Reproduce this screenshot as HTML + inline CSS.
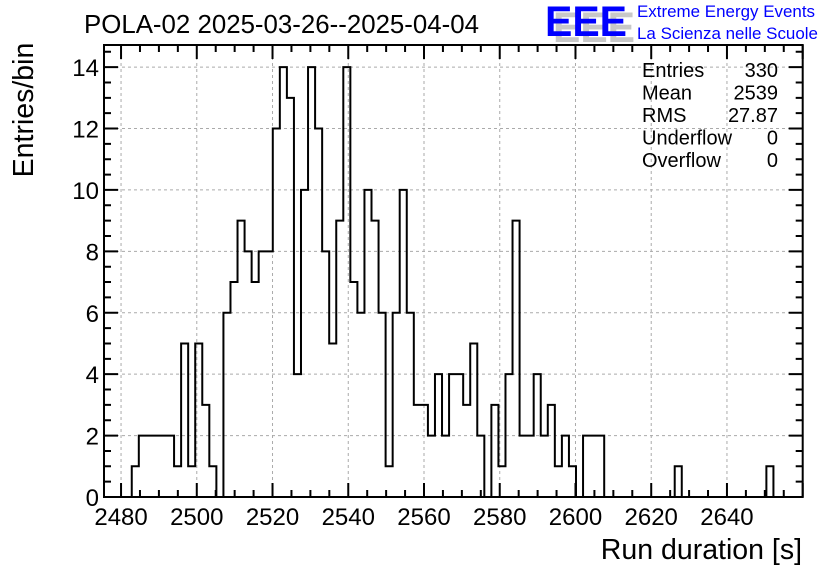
<!DOCTYPE html>
<html><head><meta charset="utf-8"><style>
html,body{margin:0;padding:0;background:#fff;}
svg{display:block;font-family:"Liberation Sans",sans-serif;}
</style></head><body>
<svg id="chart" width="836" height="572">
<g id="grid"></g>
<path id="hist" fill="none" stroke="#000" stroke-width="2"/>
<g id="axes"></g>
<text x="84" y="33" font-size="26" textLength="395" lengthAdjust="spacingAndGlyphs">POLA-02 2025-03-26--2025-04-04</text>
<text transform="translate(33,110) rotate(-90)" text-anchor="middle" font-size="28.5">Entries/bin</text>
<text x="802" y="559" text-anchor="end" font-size="28.5">Run duration [s]</text>
<g>
<text x="553" y="42" font-size="43" font-weight="bold" fill="#c8c8c8" textLength="82" lengthAdjust="spacingAndGlyphs">EEE</text>
<text x="545" y="36" font-size="43" font-weight="bold" fill="#0000ff" textLength="82" lengthAdjust="spacingAndGlyphs">EEE</text>
<text x="637" y="17" font-size="16.5" fill="#0000ff" textLength="178" lengthAdjust="spacingAndGlyphs">Extreme Energy Events</text>
<text x="637" y="39" font-size="16.5" fill="#0000ff" textLength="181" lengthAdjust="spacingAndGlyphs">La Scienza nelle Scuole</text>
</g>
<g id="stats" font-size="20"></g>
</svg>
<script>
const binStart = 2482.83;
const binWidth = 1.862;
const counts = [1,2,2,2,2,2,1,5,1,5,3,1,0,6,7,9,8,7,8,8,12,14,13,4,10,14,12,8,5,9,14,7,6,10,9,6,1,6,10,6,3,3,2,4,2,4,4,3,5,2,0,3,1,4,9,2,2,4,2,3,1,2,1,0,2,2,2,0,0,0,0,0,0,0,0,0,0,1,0,0,0,0,0,0,0,0,0,0,0,0,1];
const xTicks = [2480,2500,2520,2540,2560,2580,2600,2620,2640];
const yTicks = [0,2,4,6,8,10,12,14];
const statLabels = ["Entries","Mean","RMS","Underflow","Overflow"];
const statValues = ["330","2539","27.87","0","0"];

const X0=104,X1=802.7,Y0=497,Y1=45;
const xmin=2475.5,xmax=2660.0,ymin=0,ymax=14.72;
const sx=v=>X0+(v-xmin)/(xmax-xmin)*(X1-X0);
const sy=v=>Y0-(v-ymin)/(ymax-ymin)*(Y0-Y1);
const NS="http://www.w3.org/2000/svg";
function mk(tag,parent){const e=document.createElementNS(NS,tag);parent.appendChild(e);return e;}
const grid=document.getElementById('grid'),axes=document.getElementById('axes');

xTicks.forEach(t=>{
  const l=mk('line',grid);
  
  
  l.setAttribute('x1',sx(t));l.setAttribute('x2',sx(t));l.setAttribute('y1',Y1);l.setAttribute('y2',Y0);
  l.setAttribute('stroke','#aaa');l.setAttribute('stroke-dasharray','3,3');
  const tx=mk('text',axes);
  
  
  tx.setAttribute('x',sx(t));tx.setAttribute('y',525);tx.setAttribute('text-anchor','middle');tx.setAttribute('font-size','24');
  tx.textContent=t;
});
yTicks.forEach(t=>{
  if(t>0&&t<ymax){
  const l=mk('line',grid);
  
  
  l.setAttribute('x1',X0);l.setAttribute('x2',X1);l.setAttribute('y1',sy(t));l.setAttribute('y2',sy(t));
  l.setAttribute('stroke','#aaa');l.setAttribute('stroke-dasharray','3,3');}
  const tx=mk('text',axes);
  
  
  tx.setAttribute('x',99);tx.setAttribute('y',sy(t)+9);tx.setAttribute('text-anchor','end');tx.setAttribute('font-size','24');
  tx.textContent=t;
});
let d='';
counts.forEach((c,i)=>{
  const a=sx(binStart+i*binWidth),b=sx(binStart+(i+1)*binWidth);
  d+=(i===0?'M'+a+','+sy(0)+' ':'')+'L'+a+','+sy(c)+' L'+b+','+sy(c)+' ';
});
d+='L'+sx(binStart+counts.length*binWidth)+','+sy(0);
document.getElementById('hist').setAttribute('d',d);

let tk='';
for(let v=2480;v<=xmax;v+=5){const x=sx(v),L=(v%20===0)?14:7;tk+='M'+x+','+Y0+'v'+(-L)+'M'+x+','+Y1+'v'+L;}
for(let v=0.5;v<=ymax;v+=0.5){const y=sy(v),L=(v%2===0)?14:7;tk+='M'+X0+','+y+'h'+L+'M'+X1+','+y+'h'+(-L);}
const tp=mk('path',axes);


tp.setAttribute('d',tk);tp.setAttribute('stroke','#000');tp.setAttribute('stroke-width','2');tp.setAttribute('fill','none');
const fr=mk('rect',axes);


fr.setAttribute('x',X0);fr.setAttribute('y',Y1);fr.setAttribute('width',X1-X0);fr.setAttribute('height',Y0-Y1);
fr.setAttribute('fill','none');fr.setAttribute('stroke','#000');fr.setAttribute('stroke-width','2');

const st=document.getElementById('stats');
statLabels.forEach((s,i)=>{
  const y=77+i*22.5;
  const a=mk('text',st);
  
  
  a.setAttribute('x',642);a.setAttribute('y',y);a.textContent=s;
  const b=mk('text',st);
  
  
  b.setAttribute('x',778);b.setAttribute('y',y);b.setAttribute('text-anchor','end');b.textContent=statValues[i];
});
</script>
</body></html>
